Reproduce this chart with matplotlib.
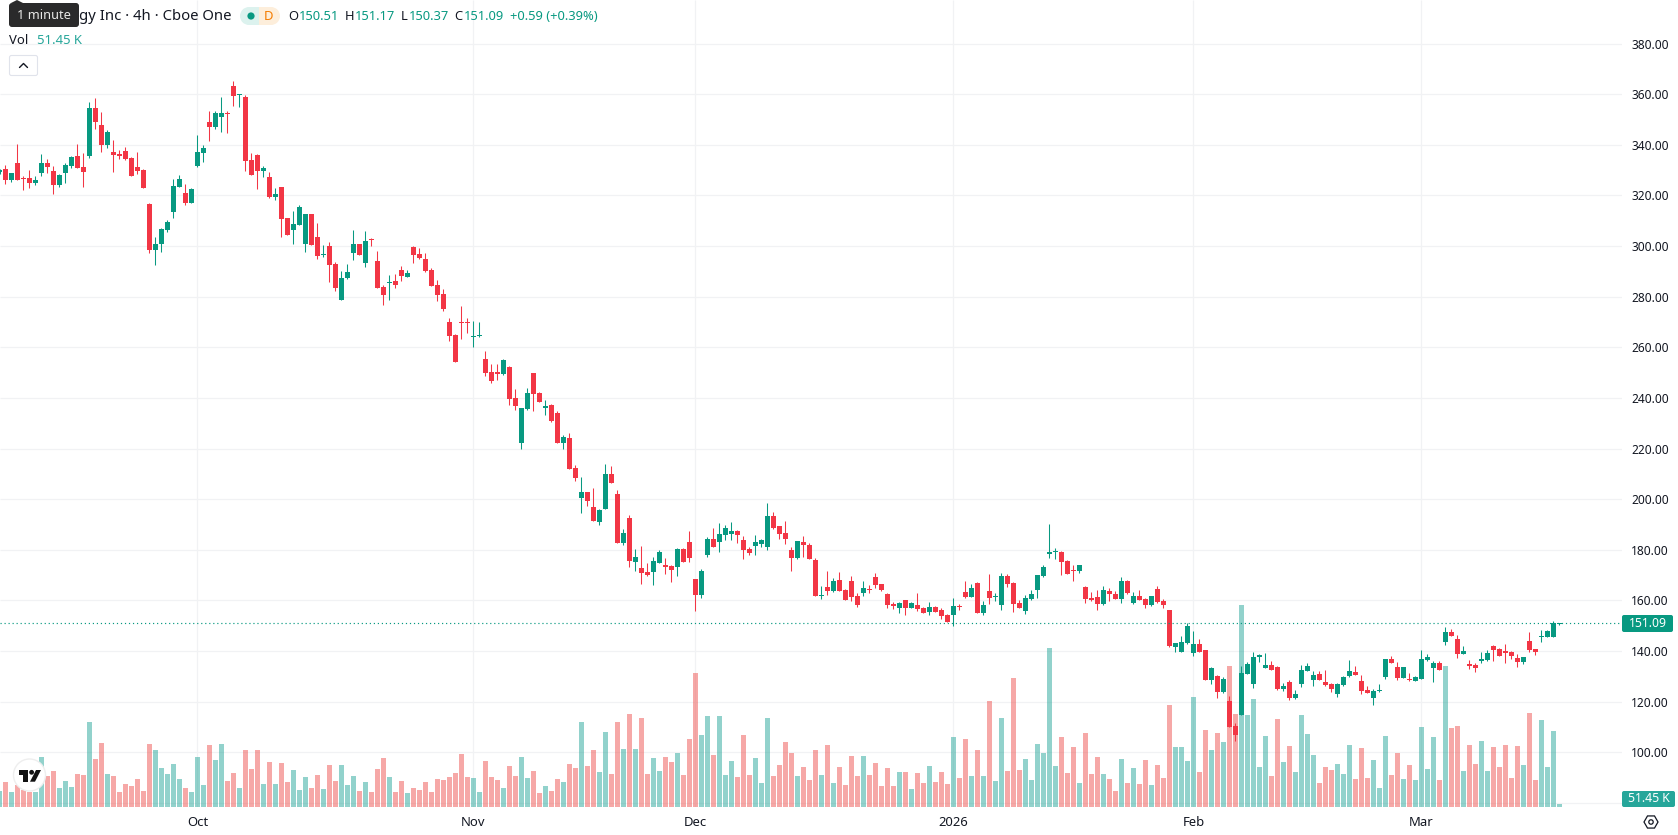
import numpy as np
from matplotlib import pyplot as plt
from matplotlib.patches import Circle, FancyBboxPatch, Polygon, Rectangle, RegularPolygon, Wedge

plt.rcParams['font.family'] = ['Noto Sans', 'DejaVu Sans']

opens = [
    329.1, 330.5, 326.2, 332.9, 326.9, 326.9, 325.0, 328.9, 332.9, 329.7,
    324.2, 328.9, 331.7, 335.6, 331.3, 335.6, 354.6, 347.9, 340.0, 337.2,
    336.4, 337.6, 334.8, 331.3, 330.1, 316.7, 298.5, 300.9, 306.4, 313.5,
    323.4, 321.0, 317.1, 331.7, 336.8, 349.1, 347.1, 351.0, 352.6, 363.3,
    359.5, 359.0, 334.1, 336.0, 329.7, 327.3, 319.4, 323.4, 311.1, 306.4,
    308.4, 300.9, 312.7, 303.6, 296.6, 300.1, 293.0, 278.8, 287.5, 297.4,
    300.9, 293.4, 302.6, 294.2, 283.9, 285.5, 286.3, 290.6, 287.9, 299.7,
    297.0, 295.0, 290.6, 284.7, 281.2, 270.1, 265.0, 270.1, 270.1, 264.2,
    264.6, 255.5, 250.3, 250.3, 249.6, 252.3, 240.1, 222.1, 235.7, 250.0,
    242.1, 236.1, 237.3, 234.1, 222.1, 224.1, 212.2, 200.4, 202.7, 196.8,
    190.9, 196.0, 209.9, 202.0, 182.6, 192.5, 175.1, 172.7, 171.1, 171.1,
    174.7, 173.9, 173.5, 173.1, 180.2, 183.0, 168.4, 162.1, 177.9, 184.2,
    183.0, 185.8, 186.2, 187.3, 183.8, 180.2, 181.4, 182.2, 181.0, 193.3,
    189.3, 186.5, 179.8, 176.7, 183.0, 181.8, 175.9, 161.7, 165.2, 163.6,
    168.0, 164.0, 167.6, 161.7, 162.8, 164.4, 169.2, 166.4, 162.4, 158.5,
    156.9, 160.1, 156.9, 158.3, 157.1, 155.5, 157.5, 156.3, 154.3, 154.3,
    157.9, 163.4, 161.4, 166.9, 155.1, 163.8, 161.4, 158.3, 169.7, 166.9,
    159.0, 155.9, 160.6, 164.2, 169.7, 178.4, 179.2, 179.2, 175.6, 172.1,
    171.7, 165.4, 161.0, 161.4, 158.6, 163.8, 162.6, 160.6, 167.7, 159.0,
    161.8, 160.6, 158.3, 164.6, 159.8, 156.3, 141.7, 139.7, 143.2, 139.4,
    142.8, 140.5, 128.7, 130.2, 123.9, 120.4, 110.4, 114.8, 131.0, 127.1,
    137.7, 133.4, 134.6, 133.8, 125.1, 127.9, 121.5, 127.1, 132.2, 128.7,
    131.0, 127.9, 127.1, 123.1, 126.7, 130.2, 131.8, 128.3, 124.7, 121.5,
    124.3, 129.8, 137.0, 133.8, 129.4, 129.0, 128.3, 129.0, 136.6, 133.4,
    135.4, 143.7, 147.6, 144.9, 138.9, 135.0, 134.6, 136.2, 136.6, 142.1,
    140.9, 140.1, 139.7, 137.3, 135.8, 144.1, 140.9, 145.6, 145.6, 145.6, 150.51,
]
closes = [
    330.1, 326.2, 328.9, 326.2, 326.5, 325.0, 326.2, 332.9, 331.3, 324.2,
    328.1, 332.1, 335.2, 330.9, 329.3, 354.6, 349.1, 340.0, 345.1, 336.0,
    335.6, 334.5, 327.7, 329.7, 323.0, 298.5, 300.9, 306.8, 309.6, 323.8,
    326.5, 317.1, 322.6, 337.2, 338.8, 347.1, 352.6, 352.6, 352.2, 359.3,
    359.9, 333.7, 328.1, 329.7, 330.9, 319.4, 320.6, 310.7, 304.4, 308.8,
    315.5, 312.7, 300.5, 296.1, 297.0, 292.6, 283.5, 287.5, 289.9, 300.9,
    296.6, 302.1, 302.2, 283.5, 280.8, 285.9, 284.7, 288.3, 289.5, 296.6,
    295.4, 290.3, 284.3, 280.8, 275.2, 264.6, 254.3, 269.7, 269.7, 264.6,
    265.0, 250.0, 246.8, 249.6, 255.1, 239.7, 236.9, 236.1, 242.1, 241.7,
    238.5, 236.9, 231.0, 222.1, 224.5, 211.8, 208.3, 202.7, 199.2, 191.3,
    195.6, 209.9, 206.3, 182.6, 186.5, 175.5, 177.1, 170.7, 170.0, 175.5,
    179.0, 173.1, 171.9, 180.2, 175.1, 176.7, 162.1, 171.5, 184.2, 181.0,
    186.2, 188.5, 187.3, 185.8, 179.8, 178.6, 183.0, 183.8, 193.3, 188.5,
    186.2, 184.2, 176.7, 183.4, 181.8, 176.3, 161.7, 162.1, 163.6, 167.6,
    163.6, 160.1, 161.3, 158.1, 164.8, 164.0, 166.0, 164.0, 158.1, 157.7,
    158.9, 156.9, 158.9, 156.7, 155.1, 157.5, 155.5, 153.9, 151.5, 157.9,
    157.5, 161.4, 165.0, 155.1, 158.3, 161.0, 161.8, 169.7, 166.5, 158.6,
    157.1, 161.0, 162.6, 170.1, 173.3, 179.2, 179.6, 175.2, 170.5, 171.7,
    174.1, 160.6, 160.2, 158.6, 164.2, 162.6, 160.6, 167.7, 163.0, 161.8,
    160.2, 158.3, 161.8, 159.4, 158.3, 142.1, 143.2, 143.6, 150.0, 142.8,
    139.7, 128.7, 133.4, 123.9, 129.0, 110.0, 106.8, 131.4, 135.0, 137.7,
    138.5, 134.6, 132.6, 125.1, 126.3, 121.5, 123.1, 132.6, 134.2, 130.6,
    128.7, 126.7, 125.1, 127.1, 129.8, 132.2, 130.6, 124.3, 123.5, 124.3,
    124.7, 137.0, 135.4, 129.4, 133.8, 128.7, 129.8, 137.0, 137.7, 135.4,
    132.6, 147.6, 146.0, 138.9, 140.1, 134.2, 133.4, 137.0, 139.3, 140.5,
    138.1, 139.3, 138.1, 135.8, 137.7, 140.5, 139.7, 146.0, 148.0, 150.9, 151.09,
]
highs = [
    330.6, 332.1, 328.9, 340.4, 327.7, 330.1, 327.7, 336.4, 334.5, 331.7,
    328.5, 332.9, 335.6, 340.4, 336.8, 357.0, 358.6, 353.0, 345.9, 342.0,
    338.0, 339.2, 335.2, 337.2, 330.5, 316.9, 303.6, 307.2, 310.3, 326.5,
    328.1, 324.6, 323.0, 343.9, 340.0, 353.4, 353.4, 358.9, 353.4, 365.3,
    360.1, 359.7, 336.8, 336.4, 331.7, 329.3, 323.0, 323.4, 311.1, 313.9,
    316.3, 312.7, 312.7, 309.2, 300.5, 301.7, 293.8, 290.3, 293.0, 306.5,
    300.9, 306.1, 303.3, 298.2, 284.7, 288.7, 289.1, 292.2, 290.6, 300.1,
    299.3, 297.4, 291.4, 286.7, 283.1, 271.7, 265.4, 276.4, 271.7, 270.5,
    270.1, 258.6, 253.5, 253.5, 255.5, 252.7, 243.6, 236.1, 244.0, 250.0,
    242.4, 239.3, 237.7, 234.9, 225.3, 226.1, 213.4, 208.7, 202.7, 204.3,
    196.0, 213.8, 213.0, 203.5, 188.1, 193.7, 180.2, 181.4, 174.7, 177.1,
    179.8, 176.7, 173.9, 180.6, 180.6, 187.3, 168.4, 172.3, 185.0, 188.5,
    190.5, 189.7, 190.9, 187.7, 185.4, 181.0, 185.8, 184.2, 198.4, 194.8,
    189.3, 191.3, 181.0, 183.4, 185.4, 182.5, 176.7, 165.6, 171.5, 168.8,
    171.1, 164.4, 169.6, 162.8, 167.6, 166.0, 170.7, 166.4, 162.8, 159.3,
    159.3, 160.1, 159.3, 163.0, 157.5, 159.4, 157.9, 157.1, 154.7, 161.0,
    158.6, 167.7, 166.5, 167.3, 159.8, 170.5, 163.0, 170.9, 170.5, 167.3,
    160.2, 162.2, 164.2, 170.1, 174.1, 190.3, 180.8, 179.6, 176.0, 174.1,
    174.1, 165.8, 163.4, 164.2, 165.8, 165.0, 163.8, 169.3, 168.1, 163.4,
    164.2, 161.0, 161.8, 165.8, 160.6, 156.3, 143.2, 146.0, 151.1, 148.0,
    144.8, 140.5, 133.8, 130.6, 129.8, 122.3, 111.6, 134.2, 135.8, 139.7,
    138.9, 139.3, 136.2, 134.2, 127.5, 128.7, 124.7, 134.6, 135.4, 132.2,
    132.2, 132.6, 127.5, 127.5, 130.2, 136.6, 134.2, 130.6, 126.3, 125.1,
    127.1, 137.0, 138.1, 135.8, 133.8, 131.4, 130.2, 140.5, 138.9, 136.2,
    136.2, 149.6, 148.8, 146.4, 142.1, 136.6, 135.4, 139.7, 140.5, 142.5,
    141.3, 142.9, 140.1, 138.9, 137.7, 147.6, 140.9, 148.4, 148.4, 152.0, 151.17,
]
lows = [
    328.5, 324.6, 325.4, 326.2, 322.2, 323.0, 324.2, 327.7, 328.9, 320.6,
    323.4, 325.0, 330.9, 330.9, 323.4, 334.8, 346.3, 337.2, 338.8, 329.3,
    334.5, 334.1, 327.7, 328.5, 323.0, 297.3, 292.6, 297.7, 305.6, 311.1,
    323.4, 316.3, 317.1, 331.3, 333.3, 341.6, 346.3, 345.1, 344.7, 355.4,
    355.0, 329.7, 328.1, 322.6, 327.3, 319.0, 318.3, 303.6, 304.4, 300.9,
    308.4, 297.7, 300.5, 294.9, 295.8, 285.9, 282.4, 278.8, 287.1, 294.6,
    296.6, 291.8, 300.1, 283.5, 276.8, 278.8, 283.5, 286.3, 287.9, 293.4,
    295.0, 289.9, 284.3, 278.4, 274.5, 262.6, 254.3, 263.4, 265.8, 260.2,
    264.2, 248.8, 246.0, 247.2, 249.2, 237.3, 235.3, 219.7, 235.3, 234.9,
    238.5, 233.4, 230.6, 222.1, 219.7, 211.8, 207.1, 194.5, 197.2, 191.3,
    189.7, 196.0, 206.3, 182.6, 181.8, 173.1, 171.5, 166.4, 169.6, 166.0,
    174.7, 170.3, 167.2, 169.6, 175.1, 175.1, 155.7, 160.9, 177.1, 181.0,
    179.0, 183.8, 183.8, 182.6, 176.3, 177.9, 177.9, 181.0, 179.8, 188.1,
    184.2, 182.2, 171.5, 176.3, 177.1, 176.3, 161.7, 160.5, 162.1, 163.2,
    163.6, 160.1, 159.7, 157.3, 161.7, 162.8, 164.8, 163.6, 156.9, 156.5,
    155.0, 154.2, 156.9, 155.9, 155.1, 154.3, 155.5, 152.7, 151.5, 150.0,
    156.3, 161.0, 161.4, 155.1, 154.3, 158.6, 159.8, 156.3, 165.4, 155.5,
    157.1, 154.7, 160.2, 161.0, 169.3, 176.8, 176.4, 170.1, 170.5, 167.7,
    170.9, 159.0, 159.8, 156.3, 158.3, 159.8, 160.6, 159.0, 162.6, 158.6,
    160.2, 157.1, 157.9, 159.0, 157.1, 141.7, 139.8, 139.7, 142.8, 138.1,
    139.7, 128.7, 127.1, 121.5, 123.5, 110.0, 104.5, 114.8, 131.0, 125.5,
    135.8, 133.4, 132.6, 124.7, 124.3, 120.8, 121.1, 125.9, 132.2, 126.3,
    128.7, 126.3, 123.9, 121.9, 126.3, 129.8, 130.6, 123.1, 123.5, 118.8,
    123.9, 129.0, 135.4, 128.7, 129.4, 128.3, 128.3, 129.0, 136.2, 127.9,
    132.6, 142.5, 146.0, 137.3, 138.9, 133.0, 131.8, 135.4, 136.2, 136.2,
    138.1, 135.4, 137.0, 133.8, 135.0, 139.7, 138.5, 143.7, 145.6, 145.6, 150.37,
]
# volume in thousands of shares
volumes = [
    269, 423, 252, 372, 286, 252, 252, 852, 526, 612,
    320, 440, 337, 560, 543, 1452, 818, 1092, 560, 526,
    252, 389, 354, 475, 269, 1075, 972, 663, 560, 732,
    475, 320, 252, 852, 372, 1058, 800, 1075, 440, 577,
    320, 972, 646, 972, 389, 766, 389, 749, 423, 629,
    286, 509, 320, 543, 303, 715, 440, 715, 372, 526,
    269, 423, 252, 646, 835, 509, 252, 440, 234, 320,
    286, 423, 252, 475, 457, 509, 577, 903, 509, 492,
    252, 783, 509, 457, 320, 697, 526, 852, 492, 612,
    234, 354, 269, 475, 423, 732, 663, 1452, 697, 972,
    595, 1281, 560, 1452, 989, 1589, 989, 1521, 560, 835,
    612, 852, 766, 920, 543, 1161, 2293, 1229, 1555, 886,
    1555, 543, 783, 509, 1229, 543, 835, 406, 1521, 526,
    715, 1109, 920, 526, 680, 457, 972, 543, 1058, 406,
    680, 372, 869, 526, 869, 543, 749, 354, 663, 354,
    595, 595, 303, 577, 406, 697, 423, 595, 389, 1195,
    492, 1161, 526, 972, 526, 1812, 440, 1521, 612, 2207,
    629, 818, 457, 1075, 920, 2721, 697, 1195, 577, 1023,
    406, 1263, 560, 852, 560, 475, 269, 818, 412, 669,
    394, 806, 377, 720, 497, 1749, 1029, 1029, 789, 1887,
    600, 1321, 978, 1269, 1115, 2418, 1595, 3465, 1578, 1852,
    686, 1218, 532, 1509, 772, 1046, 600, 1578, 1252, 892,
    412, 686, 635, 737, 566, 1063, 480, 1012, 497, 806,
    326, 1218, 549, 926, 480, 720, 463, 1372, 652, 1201,
    463, 2418, 1355, 1389, 617, 1063, 737, 1132, 617, 1029,
    686, 1063, 497, 1046, 720, 1612, 463, 1492, 686, 1303, 51.45,
]
price_ticks = [80, 100, 120, 140, 160, 180, 200, 220, 240, 260, 280, 300, 320, 340, 360, 380]
month_ticks = [33, 79, 116, 159, 199, 237]
month_labels = ['Oct', 'Nov', 'Dec', '2026', 'Feb', 'Mar']

UP = '#089981'
DOWN = '#f23645'
GRID = '#f1f2f4'
TEXT = '#131722'
W, H = 1678, 835
PANE_W, PANE_H = 1622, 807

o = np.array(opens)
c = np.array(closes)
x = np.arange(len(o))
up = c >= o
colors = np.where(up, UP, DOWN)

fig = plt.figure(figsize=(W / 100, H / 100), dpi=100, facecolor='white')
rect = [0, 1 - PANE_H / H, PANE_W / W, PANE_H / H]

# volume pane sits underneath, price is a twin on the same rectangle
ax_vol = fig.add_axes(rect)
ax = ax_vol.twinx()
ax_vol.set_xlim(0.5 / 6, 1622.5 / 6)
ax_vol.set_ylim(0, PANE_H * 17.15)
ax.set_ylim(78.4, 397.2)

for a in (ax, ax_vol):
    for s in a.spines.values():
        s.set_visible(False)

ax_vol.set_yticks([])
ax_vol.vlines(month_ticks, 0, 1, transform=ax_vol.get_xaxis_transform(), color=GRID, lw=0.9, zorder=0)
ax_vol.hlines(price_ticks, 0, 1, transform=ax.get_yaxis_transform(), color=GRID, lw=0.9, zorder=0)
ax_vol.bar(x, volumes, width=5 / 6, color=np.where(up, '#26a69a', '#ef5350'), alpha=0.5, linewidth=0, zorder=1)

ax_vol.set_xticks(month_ticks)
ax_vol.set_xticklabels(month_labels, fontsize=9.4, color=TEXT)
ax_vol.get_xticklabels()[3].set_fontweight('bold')
ax_vol.tick_params(axis='x', length=0, pad=6.5)

# candles
ax.vlines(x, lows, highs, colors=colors, lw=0.75, zorder=2)
ax.bar(x, np.abs(c - o), bottom=np.minimum(o, c), width=5 / 6, color=colors, linewidth=0, zorder=3)
ax.hlines(closes[-1], 0, 1, transform=ax.get_yaxis_transform(), color=UP, lw=0.85,
          linestyle=(0, (1, 2.4)), zorder=4)

ax.set_yticks(price_ticks)
ax.set_yticklabels([''] + ['%.2f' % t for t in price_ticks[1:]], fontsize=8.6, color=TEXT)
ax.tick_params(axis='y', length=0, pad=6.5)

# header, last-value tags and logo, laid out in pixels
ui = fig.add_axes([0, 0, 1, 1], facecolor='none')
ui.set_xlim(0, W)
ui.set_ylim(H, 0)
ui.axis('off')


def box(x0, y0, x1, y1, color, radius=2, **kw):
    ui.add_patch(FancyBboxPatch((x0 + radius, y0 + radius), x1 - x0 - 2 * radius, y1 - y0 - 2 * radius,
                                boxstyle='round,pad=%s,rounding_size=%s' % (radius, radius),
                                facecolor=color, mutation_aspect=1, **kw))


def label(px, py, s, color=TEXT, size=10.2, ha='left', **kw):
    ui.text(px, py, s, color=color, fontsize=size, ha=ha, va='center', **kw)


# last price and last volume tags
box(1622, 615, 1673, 632, UP, linewidth=0)
label(1648, 623.3, '%.2f' % closes[-1], color='white', size=8.8, ha='center')
box(1622, 791, 1675, 807, '#26a69a', linewidth=0)
label(1648.5, 799, '%.2f K' % volumes[-1], color='white', size=8.8, ha='center')

# title row
label(79, 16.3, 'gy Inc · 4h · Cboe One', size=10.7)
ui.add_patch(Wedge((249, 16), 9, 90, 270, facecolor='#dcf2ee', linewidth=0))
ui.add_patch(Rectangle((249, 7), 10, 18, facecolor='#dcf2ee', linewidth=0))
ui.add_patch(Rectangle((259, 7), 12, 18, facecolor='#fdeedb', linewidth=0))
ui.add_patch(Wedge((271, 16), 9, 270, 90, facecolor='#fdeedb', linewidth=0))
ui.add_patch(Circle((251, 16), 3.6, facecolor=UP, linewidth=0))
label(268.7, 16, 'D', color='#f57c00', size=9.4, ha='center')

label(288, 16.3, 'O', size=9.3)
label(299, 16.3, '%.2f' % opens[-1], color=UP, size=9.3)
label(345, 16.3, 'H', size=9.3)
label(355, 16.3, '%.2f' % highs[-1], color=UP, size=9.3)
label(401, 16.3, 'L', size=9.3)
label(409, 16.3, '%.2f' % lows[-1], color=UP, size=9.3)
label(454.5, 16.3, 'C', size=9.3)
label(464, 16.3, '%.2f' % closes[-1], color=UP, size=9.3)
label(510, 16.3, '+0.59 (+0.39%)', color=UP, size=9.3)

# tooltip over the title
box(9, 3, 79, 27, '#2a2a2b', radius=3, linewidth=0, zorder=5)
ui.add_patch(Polygon([(11, 3), (17, 0), (23, 3)], facecolor='#2a2a2b', linewidth=0, zorder=5))
label(44, 15.5, '1 minute', color='#e8e8e8', size=9.2, ha='center', zorder=6)

# volume legend and collapse button
label(9.3, 40.5, 'Vol', size=9.4)
label(37, 40.5, '51.45 K', color='#26a69a', size=9.4)
box(9.5, 55.5, 37.5, 75.5, 'white', radius=2, linewidth=0.8, edgecolor='#e0e3eb')
ui.plot([19.5, 23.5, 27.5], [67.5, 63.5, 67.5], color=TEXT, lw=1.0, solid_capstyle='round')

# logo badge
ui.add_patch(Circle((29.5, 775), 16, facecolor='white', edgecolor='#eeeeee', linewidth=1, zorder=5))
ui.add_patch(Polygon([(18.6, 770), (28, 770), (28, 781.7), (23, 781.7), (23, 775), (18.6, 775)],
                     facecolor='#111111', linewidth=0, zorder=6))
ui.add_patch(Circle((31.6, 772.3), 2.4, facecolor='#111111', linewidth=0, zorder=6))
ui.add_patch(Polygon([(36, 770), (41, 770), (35, 781.7), (30, 781.7)], facecolor='#111111', linewidth=0, zorder=6))

# settings icon in the corner
ui.add_patch(RegularPolygon((1651, 822), 6, radius=7, orientation=np.pi / 2, facecolor='none',
                            edgecolor=TEXT, linewidth=0.9))
ui.add_patch(Circle((1651, 822), 2.2, facecolor='none', edgecolor=TEXT, linewidth=0.9))

fig.savefig('out.png', dpi=100)
